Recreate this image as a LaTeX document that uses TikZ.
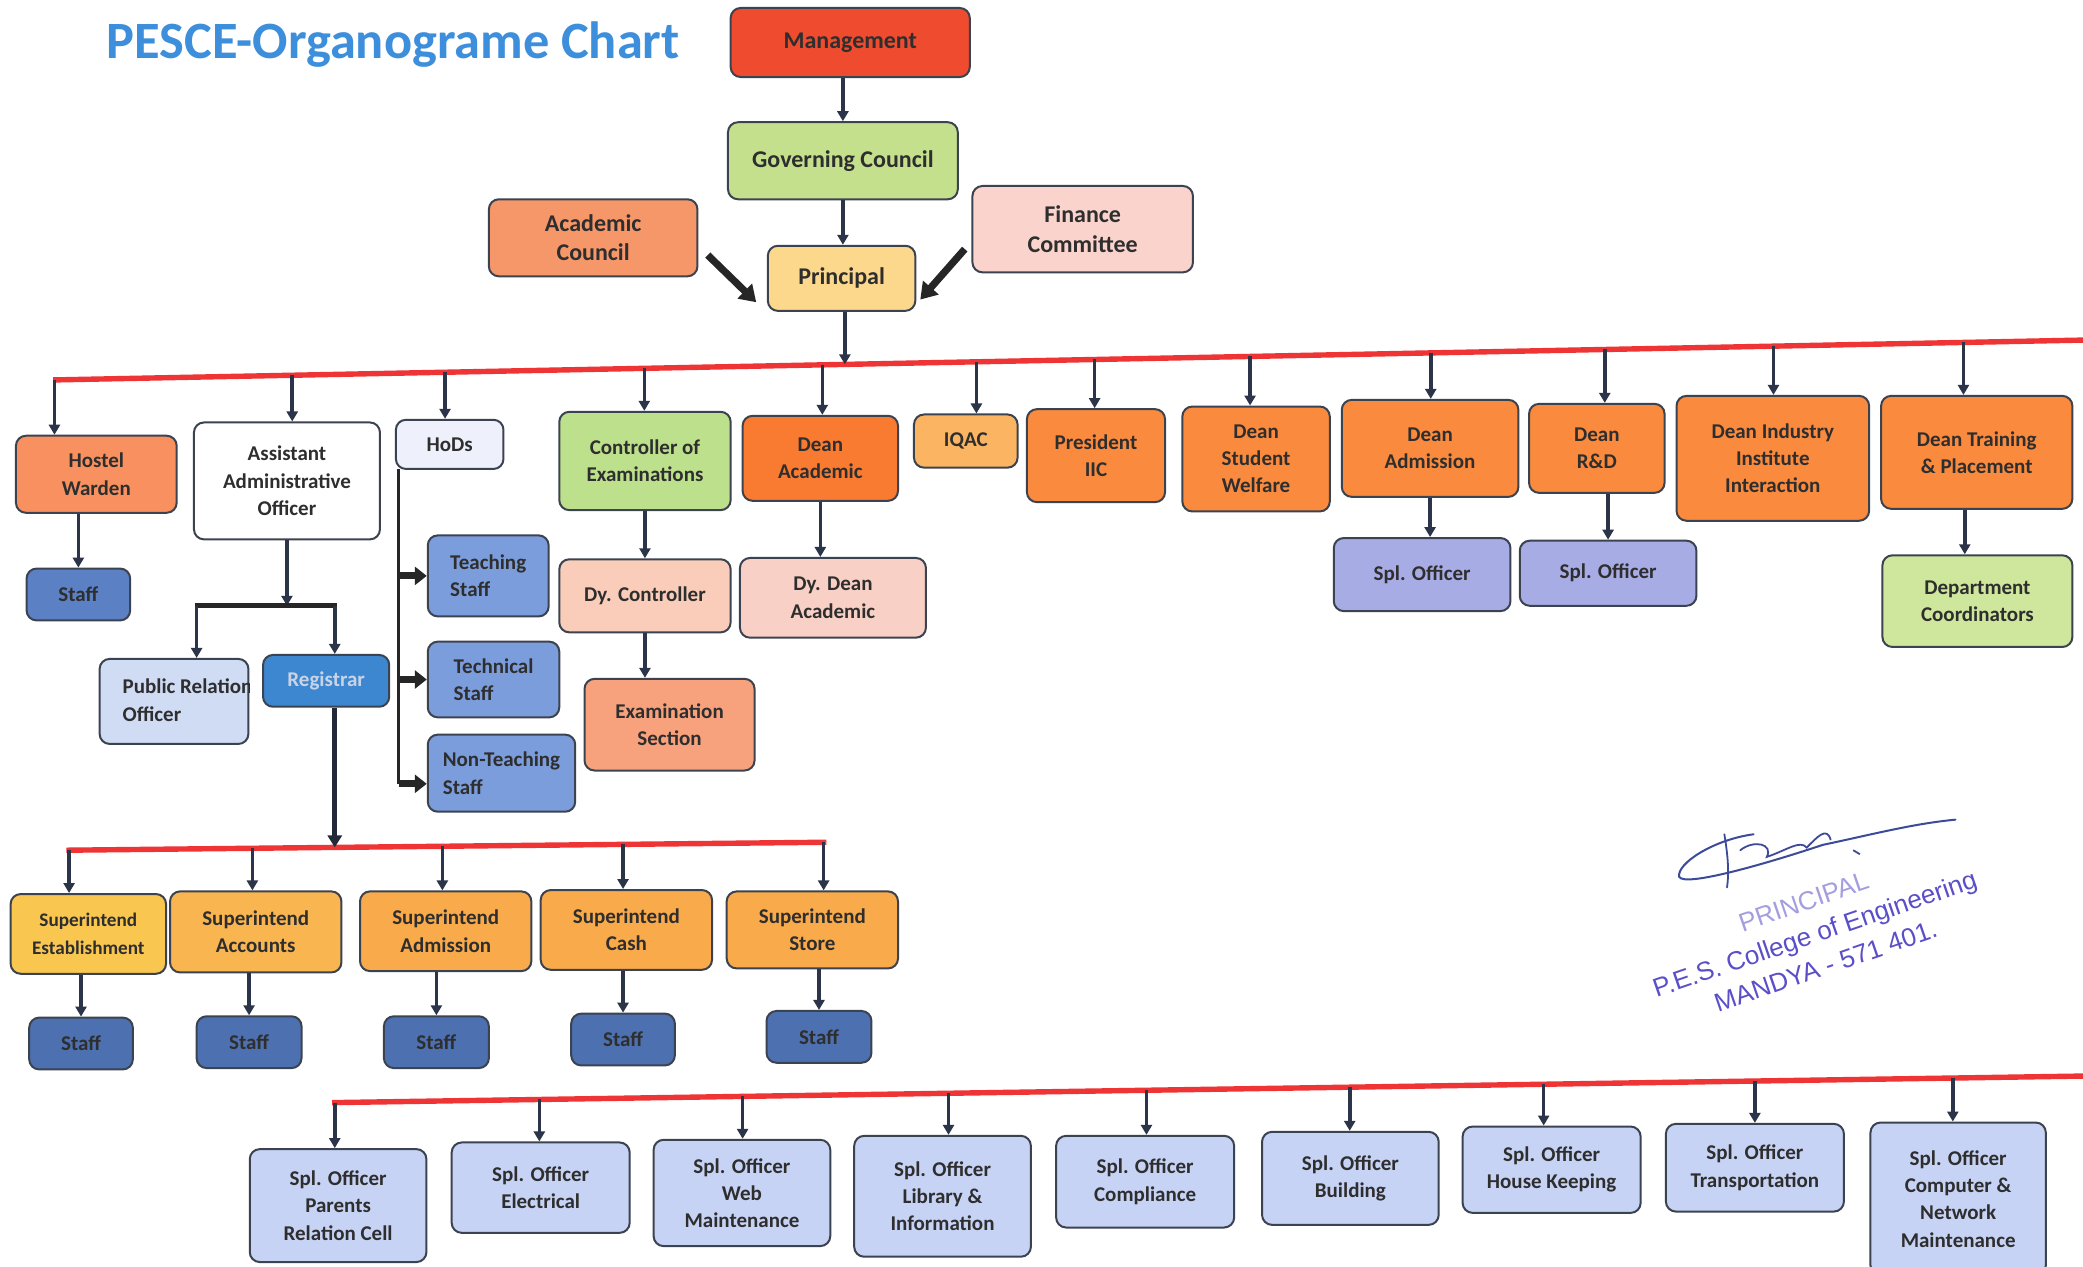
\documentclass[tikz,border=0pt]{standalone}
\usepackage{fontspec}
\setmainfont{Carlito}
\newfontfamily\stampfont{Liberation Sans}
\usetikzlibrary{arrows.meta,calc}
\definecolor{bord}{HTML}{3C4350}
\definecolor{navy}{HTML}{2B3448}
\definecolor{redl}{HTML}{EE3434}
\definecolor{txt}{HTML}{2E2E2E}
\definecolor{cTitle}{HTML}{3D8FDC}
\definecolor{cMgmt}{HTML}{EF4B2F}
\definecolor{cGC}{HTML}{C5E08D}
\definecolor{cAcad}{HTML}{F6976A}
\definecolor{cFin}{HTML}{FAD3CC}
\definecolor{cPrin}{HTML}{FCD88C}
\definecolor{cHostel}{HTML}{F8915F}
\definecolor{cStaff}{HTML}{5B80C4}
\definecolor{cStaffB}{HTML}{4D70B0}
\definecolor{cHoD}{HTML}{EEF0FB}
\definecolor{cTeach}{HTML}{7C9DDC}
\definecolor{cPRO}{HTML}{D0DCF4}
\definecolor{cReg}{HTML}{3D87D0}
\definecolor{cRegT}{HTML}{C9D3E6}
\definecolor{cCoE}{HTML}{BDE08C}
\definecolor{cDyC}{HTML}{F9CDB9}
\definecolor{cExS}{HTML}{F7A27C}
\definecolor{cDeanA}{HTML}{F97B31}
\definecolor{cDyD}{HTML}{F9D0C6}
\definecolor{cIQAC}{HTML}{FBB462}
\definecolor{cDean}{HTML}{F98A3E}
\definecolor{cSpl}{HTML}{A8ACE5}
\definecolor{cDC}{HTML}{CFE69D}
\definecolor{cSupE}{HTML}{F9C650}
\definecolor{cSupA}{HTML}{F9B550}
\definecolor{cSupB}{HTML}{F9AA4A}
\definecolor{cSplB}{HTML}{C7D3F5}
\definecolor{cStamp}{HTML}{5A4FC8}
\definecolor{cSign}{HTML}{3D4A9A}
\def\U{0.6642pt}
\newcommand\bx[7]{\node[box,#6,minimum width={(#4-#2)*\U},minimum height={(#5-#3)*\U}] (#1) at ({(#2+#4)/2},{(#3+#5)/2}) {#7};}
% drop from red line 1
\newcommand\dropA[3]{\coordinate (#3) at (#1,{286-(#1-40)/1528*30}); \draw[arr] (#3) -- (#3 |- #2.north);}
% drop from red line 2
\newcommand\dropB[3]{\coordinate (#3) at (#1,{640-(#1-50)/572*6}); \draw[arr] (#3) -- (#3 |- #2.north);}
% drop from red line 3
\newcommand\dropC[3]{\coordinate (#3) at (#1,{830-(#1-250)/1318*20}); \draw[arr] (#3) -- (#3 |- #2.north);}
\begin{document}
\begin{tikzpicture}[x=0.6642pt,y=-0.6642pt,
  box/.style={draw=bord,line width=1pt,rounded corners=5pt,align=center,inner sep=1pt,text=txt,
    font=\bfseries\fontsize{10.5}{13.6}\selectfont},
  big/.style={font=\bfseries\fontsize{12}{14.6}\selectfont},
  arr/.style={draw=navy,line width=1.8pt,-{Triangle[width=5.5pt,length=5pt]}},
  arrthick/.style={draw=navy!80!black,line width=2.6pt,-{Triangle[width=7pt,length=6pt]}},
  fat/.style={draw=black!85,line width=3.6pt,-{Triangle[width=10pt,length=8pt]}},
  branch/.style={draw=black!85,line width=3.6pt,-{Triangle[width=9pt,length=6pt]}},
  redline/.style={draw=redl,line width=2.7pt},
  stamp/.style={text=cStamp,font=\stampfont\fontsize{13}{17}\selectfont,rotate=19,inner sep=0pt,align=center}]
\useasboundingbox (0,0) rectangle (1568,953);
\fill[white] (0,0) rectangle (1568,953);

% title
\node[anchor=base west,inner sep=0pt,text=cTitle,font=\bfseries\fontsize{26.2}{28}\selectfont] (title) at (80,44) {PESCE-Organograme Chart};

% top section
\bx{mgmt}{550}{6}{730}{58}{fill=cMgmt,big}{Management}
\bx{gc}{548}{92}{721}{150}{fill=cGC,big}{Governing Council}
\bx{acad}{368}{150}{525}{208}{fill=cAcad,big}{Academic\\Council}
\bx{fin}{732}{140}{898}{205}{fill=cFin,big}{Finance\\Committee}
\bx{prin}{578}{185}{689}{234}{fill=cPrin,big}{Principal}

\draw[arr] (gc.north |- mgmt.south) -- (gc.north);
\draw[arr] (gc.south) -- (gc.south |- prin.north);
\draw[fat] ([shift={(7,13)}]acad.east) -- ([shift={(-8,18)}]prin.west);
\draw[fat] ([shift={(-5,15)}]fin.west) -- ([shift={(3,16)}]prin.east);

% red line 1
\coordinate (L1a) at (40,286);
\coordinate (L1b) at (1568,256);
\draw[redline] (L1a) -- (L1b);
\coordinate (pr1) at (636,{286-(636-40)/1528*30});
\draw[arr] (prin.south -| pr1) -- (pr1);

% row 1 boxes
\bx{hostel}{12}{328}{133}{386}{fill=cHostel}{Hostel\\Warden}
\bx{hstaff}{20}{428}{98}{467}{fill=cStaff}{Staff}
\bx{aao}{146}{318}{286}{406}{fill=white}{Assistant\\Administrative\\Officer}
\bx{hods}{298}{316}{379}{353}{fill=cHoD}{HoDs}
\bx{teach}{322}{403}{413}{464}{fill=cTeach,align=left}{Teaching\\Staff}
\bx{tech}{322}{483}{421}{540}{fill=cTeach,align=left}{Technical\\Staff}
\bx{nonteach}{322}{553}{433}{611}{fill=cTeach,align=left}{Non-Teaching\\Staff}
\bx{pro}{75}{496}{187}{560}{fill=cPRO}{}
\begin{scope}
\clip (pro.south west) rectangle (pro.north east);
\node[anchor=west,align=left,inner sep=0pt,text=txt,font=\bfseries\fontsize{10.5}{13.6}\selectfont] (protext) at (92,527) {Public Relation\\Officer};
\end{scope}
\bx{reg}{198}{493}{293}{532}{fill=cReg,text=cRegT}{Registrar}
\bx{coe}{421}{310}{550}{384}{fill=cCoE}{Controller of\\Examinations}
\bx{dyc}{421}{421}{550}{476}{fill=cDyC}{Dy. Controller}
\bx{exs}{440}{511}{568}{580}{fill=cExS}{Examination\\Section}
\bx{dacad}{559}{313}{676}{377}{fill=cDeanA}{Dean\\Academic}
\bx{ddacad}{557}{420}{697}{480}{fill=cDyD}{Dy. Dean\\Academic}
\bx{iqac}{688}{312}{766}{352}{fill=cIQAC}{IQAC}
\bx{iic}{773}{308}{877}{378}{fill=cDean}{President\\IIC}
\bx{dsw}{890}{306}{1001}{385}{fill=cDean}{Dean\\Student\\Welfare}
\bx{dadm}{1010}{301}{1143}{374}{fill=cDean}{Dean\\Admission}
\bx{spla}{1004}{405}{1137}{460}{fill=cSpl}{Spl. Officer}
\bx{drd}{1151}{304}{1253}{371}{fill=cDean}{Dean\\R\&D}
\bx{splr}{1144}{407}{1277}{456}{fill=cSpl}{Spl. Officer}
\bx{diii}{1262}{298}{1407}{392}{fill=cDean}{Dean Industry\\Institute\\Interaction}
\bx{dtp}{1416}{298}{1560}{383}{fill=cDean}{Dean Training\\\& Placement}
\bx{dcoord}{1417}{418}{1560}{487}{fill=cDC}{Department\\Coordinators}

\dropA{41}{hostel}{dA1}
\dropA{220}{aao}{dA2}
\dropA{335}{hods}{dA3}
\dropA{485}{coe}{dA4}
\dropA{619}{dacad}{dA5}
\dropA{735}{iqac}{dA6}
\dropA{824}{iic}{dA7}
\dropA{941}{dsw}{dA8}
\dropA{1077}{dadm}{dA9}
\dropA{1208}{drd}{dA10}
\dropA{1335}{diii}{dA11}
\dropA{1478}{dtp}{dA12}

\draw[arr] (hstaff.north |- hostel.south) -- (hstaff.north);
\draw[arr] (coe.south) -- (coe.south |- dyc.north);
\draw[arr] (dyc.south) -- (dyc.south |- exs.north);
\draw[arr] (dacad.south) -- (dacad.south |- ddacad.north);
\draw[arr] (dadm.south) -- (dadm.south |- spla.north);
\draw[arr] (splr.north |- drd.south) -- (splr.north);
\coordinate (tpx) at (1479,383);
\draw[arr] (tpx |- dtp.south) -- (tpx |- dcoord.north);

% HoDs branch
\coordinate (hv) at (300,353);
\coordinate (hvb) at (300,590);
\draw[draw=black!85,line width=1.4pt] (hv) -- (hvb);
\draw[branch] (hv |- teach.west) -- (teach.west);
\draw[branch] (hv |- tech.west) -- (tech.west);
\draw[branch] (hvb) -- (hvb -| nonteach.west);

% AAO bracket
\coordinate (bL) at (148,456);
\coordinate (bR) at (252,456);
\draw[arr] (aao.south) -- (aao.south |- bL);
\draw[draw=black!85,line width=2.7pt] ([xshift=-1pt]bL) -- ([xshift=1pt]bR);
\draw[arr] (bL) -- (bL |- pro.north);
\draw[arr] (bR) -- (bR |- reg.north);

% red line 2
\coordinate (L2a) at (50,640);
\coordinate (L2b) at (622,634);
\draw[redline] (L2a) -- (L2b);
\coordinate (r2r) at (252,{640-(252-50)/572*6});
\draw[arrthick] (reg.south -| r2r) -- (r2r);

\bx{sest}{8}{673}{125}{733}{fill=cSupE,font=\bfseries\fontsize{9.6}{13.6}\selectfont}{Superintend\\Establishment}
\bx{sacc}{128}{671}{257}{732}{fill=cSupA}{Superintend\\Accounts}
\bx{sadm}{271}{671}{400}{731}{fill=cSupB}{Superintend\\Admission}
\bx{scash}{407}{670}{536}{730}{fill=cSupB}{Superintend\\Cash}
\bx{sstore}{547}{671}{676}{729}{fill=cSupB}{Superintend\\Store}
\bx{st1}{22}{766}{100}{805}{fill=cStaffB}{Staff}
\bx{st2}{148}{765}{227}{804}{fill=cStaffB}{Staff}
\bx{st3}{289}{765}{368}{804}{fill=cStaffB}{Staff}
\bx{st4}{430}{763}{508}{802}{fill=cStaffB}{Staff}
\bx{st5}{577}{761}{656}{800}{fill=cStaffB}{Staff}

\dropB{52}{sest}{dB1}
\dropB{190}{sacc}{dB2}
\dropB{333}{sadm}{dB3}
\dropB{469}{scash}{dB4}
\dropB{620}{sstore}{dB5}
\draw[arr] (st1.north |- sest.south) -- (st1.north);
\draw[arr] (st2.north |- sacc.south) -- (st2.north);
\draw[arr] (st3.north |- sadm.south) -- (st3.north);
\draw[arr] (st4.north |- scash.south) -- (st4.north);
\draw[arr] (st5.north |- sstore.south) -- (st5.north);

% red line 3
\coordinate (L3a) at (250,830);
\coordinate (L3b) at (1568,810);
\draw[redline] (L3a) -- (L3b);

\bx{sp1}{188}{865}{321}{950}{fill=cSplB}{Spl. Officer\\Parents\\Relation Cell}
\bx{sp2}{340}{860}{474}{928}{fill=cSplB}{Spl. Officer\\Electrical}
\bx{sp3}{492}{858}{625}{938}{fill=cSplB}{Spl. Officer\\Web\\Maintenance}
\bx{sp4}{643}{855}{776}{946}{fill=cSplB}{Spl. Officer\\Library \&\\Information}
\bx{sp5}{795}{855}{929}{924}{fill=cSplB}{Spl. Officer\\Compliance}
\bx{sp6}{950}{852}{1083}{922}{fill=cSplB}{Spl. Officer\\Building}
\bx{sp7}{1101}{848}{1235}{913}{fill=cSplB}{Spl. Officer\\House Keeping}
\bx{sp8}{1254}{846}{1388}{912}{fill=cSplB}{Spl. Officer\\Transportation}
\bx{sp9}{1408}{845}{1540}{960}{fill=cSplB}{Spl. Officer\\Computer \&\\Network\\Maintenance}

\dropC{252}{sp1}{dC1}
\dropC{406}{sp2}{dC2}
\dropC{559}{sp3}{dC3}
\dropC{714}{sp4}{dC4}
\dropC{863}{sp5}{dC5}
\dropC{1016}{sp6}{dC6}
\dropC{1162}{sp7}{dC7}
\dropC{1321}{sp8}{dC8}
\dropC{1470}{sp9}{dC9}

% signature and stamp
\draw[cSign,line width=1pt,line cap=round]
  (1320,628) .. controls (1290,632) and (1262,650) .. (1264,660)
  .. controls (1268,668) and (1330,650) .. (1372,636)
  .. controls (1410,628) and (1440,620) .. (1472,617);
\draw[cSign,line width=0.9pt,line cap=round]
  (1298,628) .. controls (1300,640) and (1302,655) .. (1300,668);
\draw[cSign,line width=0.9pt,line cap=round]
  (1310,640) .. controls (1320,632) and (1335,635) .. (1330,645)
  .. controls (1345,640) and (1355,632) .. (1360,638)
  .. controls (1368,630) and (1375,622) .. (1378,632);
\draw[cSign,line width=0.9pt] (1395,640) -- (1400,643);
\node[stamp] (stampnode) at (1366,703) {{\color{cStamp!55}PRINCIPAL}\\P.E.S. College of Engineering\\MANDYA - 571 401.};
\end{tikzpicture}
\end{document}
